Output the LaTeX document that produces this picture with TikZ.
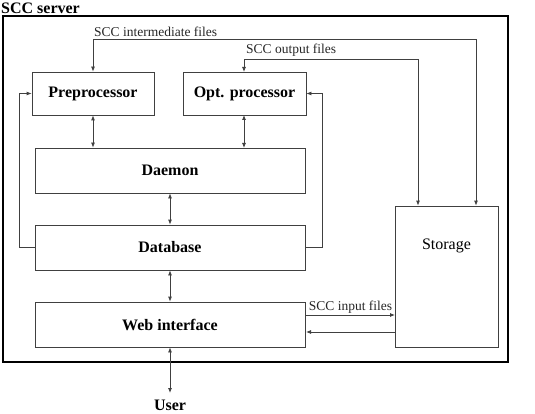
\documentclass[tikz,border=0pt]{standalone}
\usepackage{fontspec}
\setmainfont{Liberation Serif}
\usetikzlibrary{arrows.meta}
\begin{document}
\begin{tikzpicture}[x=1pt,y=-1pt,
  box/.style={draw=black!75,line width=0.8pt,rectangle,inner sep=0pt,font=\fontsize{16}{19}\selectfont\bfseries},
  conn/.style={draw=black!75,line width=0.8pt,-{Latex[length=5pt,width=4pt]}},
  bconn/.style={draw=black!75,line width=0.8pt,{Latex[length=5pt,width=4pt]}-{Latex[length=5pt,width=4pt]}},
  lbl/.style={font=\fontsize{13.5}{16}\selectfont,inner sep=1pt,text=black!85}]
\useasboundingbox (0,0) rectangle (535,414);
\node[draw=black,line width=1.6pt,minimum width=505pt,minimum height=346pt,inner sep=0pt] (frame) at (255.5,189) {};
\node[anchor=west,inner sep=0pt,font=\fontsize{16}{19}\selectfont\bfseries] (title) at (1,8) {SCC server};
\node[box,minimum width=122pt,minimum height=43pt] (pre) at (93,93.5) {Preprocessor};
\node[box,minimum width=123pt,minimum height=43pt] (opt) at (244.5,93.5) {Opt. processor};
\node[box,minimum width=270pt,minimum height=45pt] (dae) at (170,170.5) {Daemon};
\node[box,minimum width=270pt,minimum height=45pt] (db) at (170,247.5) {Database};
\node[box,minimum width=270pt,minimum height=45pt] (web) at (170,324.5) {Web interface};
\node[draw=black!75,line width=0.8pt,minimum width=103pt,minimum height=141pt,inner sep=0pt] (sto) at (446.5,276.5) {};
\node[font=\fontsize{16}{19}\selectfont,inner sep=0pt] (stol) at (446.5,246) {Storage};
\node[inner sep=0pt,font=\fontsize{16}{19}\selectfont\bfseries] (user) at (170,405) {User};
% vertical links
\draw[bconn] (pre.south) -- (pre.south |- dae.north);
\draw[bconn] (244,115) -- (244,148);
\draw[bconn] (dae.south) -- (db.north);
\draw[bconn] (db.south) -- (web.north);
\draw[bconn] (web.south) -- (170,393);
% loops from database
\draw[conn] (db.west) -- (19,247.5) -- (19,93.5) -- (pre.west);
\draw[conn] (db.east) -- (322,247.5) -- (322,93.5) -- (opt.east);
% storage links
\coordinate (ci) at (476,39);
\coordinate (co) at (418,59);
\draw[bconn] (pre.north) -- (pre.north |- ci) -- (ci) -- (ci |- sto.north);
\draw[bconn] (244,72) -- (244,59) -- (co) -- (co |- sto.north);
\node[lbl,anchor=south west] (li) at (93,38) {SCC intermediate files};
\node[lbl,anchor=south west] (lo) at (245,58) {SCC output files};
\draw[conn] (306,315) -- (395,315) node[lbl,midway,above] (lin) {SCC input files};
\draw[conn] (395,332) -- (306,332);
\end{tikzpicture}
\end{document}
